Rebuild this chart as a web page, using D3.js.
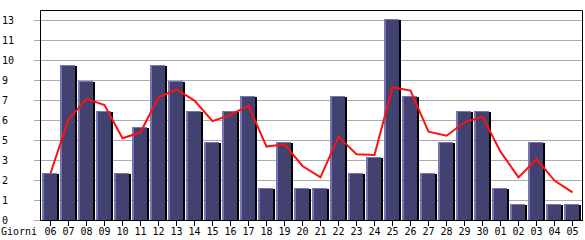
<!DOCTYPE html>
<html><head><meta charset="utf-8">
<script src="https://cdn.jsdelivr.net/npm/d3@7"></script>
<style>
html,body{margin:0;padding:0;background:#fff;}
svg{display:block;}
text{font-family:"DejaVu Sans Mono",monospace;font-size:10px;fill:#000;}
</style></head><body>
<svg id="c" width="585" height="240"></svg>
<script>
const days = ["06","07","08","09","10","11","12","13","14","15","16","17","18","19","20","21","22","23","24","25","26","27","28","29","30","01","02","03","04","05"];
const visits = [3,10,9,7,3,6,10,9,7,5,7,8,2,5,2,2,8,3,4,13,8,3,5,7,7,2,1,5,1,1];
const trend = [3.04,6.54,7.87,7.47,5.31,5.70,7.97,8.49,7.76,6.43,6.83,7.43,4.77,4.92,3.51,2.77,5.42,4.27,4.23,8.63,8.41,5.74,5.48,6.35,6.72,4.44,2.77,3.96,2.56,1.80];
const yMax = 13;
const yTickLabels = ["0","1","2","3","5","6","7","9","10","11","13"];
const xAxisTitle = "Giorni";

(function () {
const svg = d3.select("#c");
const mLeft = 40, mRight = 582, mTop = 10, mBottom = 220, plotTop = 20;
const x = d3.scaleBand().domain(days).range([42, 582]).paddingInner(0).paddingOuter(0);
const y = d3.scaleLinear().domain([0, yMax]).range([mBottom, plotTop]);
const tickVals = yTickLabels.map((_, i) => i * yMax / (yTickLabels.length - 1));

// grid lines
svg.append("g").selectAll("line").data(tickVals).join("line")
  .attr("x1", 34).attr("x2", mRight)
  .attr("y1", d => Math.round(y(d)) + 0.5).attr("y2", d => Math.round(y(d)) + 0.5)
  .attr("stroke", "#aaaaaa").attr("stroke-width", 1);

// y labels
svg.append("g").selectAll("text").data(tickVals).join("text")
  .attr("x", 2).attr("y", d => Math.round(y(d)) + 3.5)
  .text((d, i) => yTickLabels[i]);

// bars
const bw = 15;
const g = svg.append("g");
days.forEach((d, i) => {
  const x0 = x(d);
  const yt = Math.round(y(visits[i])) - 1;
  const h = mBottom - yt;
  g.append("rect").attr("x", x0 + bw).attr("y", yt + 1).attr("width", 2).attr("height", h - 1).attr("fill", "#000");
  g.append("rect").attr("x", x0).attr("y", yt).attr("width", bw).attr("height", h).attr("fill", "#424270");
  g.append("rect").attr("x", x0).attr("y", yt).attr("width", 2).attr("height", h).attr("fill", "#7676b6");
  g.append("rect").attr("x", x0).attr("y", yt).attr("width", bw).attr("height", 1).attr("fill", "#7676b6");
});

// trend line
const line = d3.line().x((d, i) => x(days[i]) + x.bandwidth() / 2 - 0.5).y(d => y(d));
svg.append("path").datum(trend).attr("d", line)
  .attr("fill", "none").attr("stroke", "#ff1010").attr("stroke-width", 2).attr("stroke-linejoin", "miter");

// frame
svg.append("path")
  .attr("d", `M${mLeft + 0.5},${mBottom + 0.5}V${mTop + 0.5}H${mRight + 0.5}V${mBottom + 0.5}`)
  .attr("fill", "none").attr("stroke", "#000").attr("stroke-width", 1);
svg.append("line").attr("x1", mLeft).attr("x2", mRight + 1).attr("y1", mBottom + 0.5).attr("y2", mBottom + 0.5)
  .attr("stroke", "#000");

// x ticks and labels
const xa = svg.append("g");
xa.selectAll("line").data(days).join("line")
  .attr("x1", d => Math.round(x(d) + x.bandwidth() / 2) - 0.5)
  .attr("x2", d => Math.round(x(d) + x.bandwidth() / 2) - 0.5)
  .attr("y1", mBottom).attr("y2", mBottom + 6).attr("stroke", "#000");
xa.selectAll("text").data(days).join("text")
  .attr("x", d => x(d) + x.bandwidth() / 2 - 0.5).attr("y", 235)
  .attr("text-anchor", "middle").text(d => d);
svg.append("text").attr("x", 1).attr("y", 235).text(xAxisTitle);
})();
</script>
</body></html>
